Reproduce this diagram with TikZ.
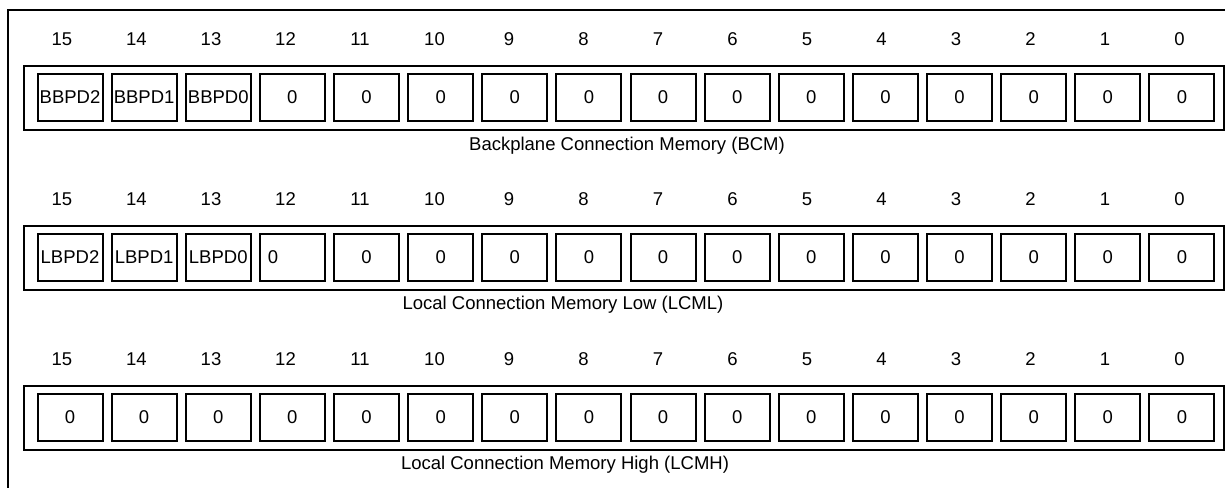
\documentclass[tikz,border=0pt]{standalone}
\usepackage{fontspec}
\setmainfont{Liberation Sans}
\newcommand\figfont{\fontsize{18.5}{22}\selectfont}
\begin{document}
\begin{tikzpicture}[x=1pt,y=-1pt,
  frameline/.style={line width=2pt},
  rowbox/.style={draw,line width=2pt,minimum width=1200pt,minimum height=64pt,inner sep=0pt,anchor=north west},
  cell/.style={draw,line width=2pt,minimum width=65pt,minimum height=47pt,inner sep=0pt,anchor=north west,font=\figfont},
  bitnum/.style={inner sep=0pt,font=\figfont},
  caption/.style={inner sep=0pt,font=\figfont}]
\useasboundingbox (0,0) rectangle (1225,487);
% outer frame
\coordinate (fbl) at (8,490);
\coordinate (ftl) at (8,10);
\coordinate (ftr) at (1230,10);
\draw[frameline] (fbl) -- (ftl) -- (ftr);
% row boxes
\node[rowbox] (bcmbox)  at (23,64.5) {};
\node[rowbox] (lcmlbox) at (23,224.5) {};
\node[rowbox] (lcmhbox) at (23,384.5) {};
% bit numbers
\foreach \r/\nm in {0/bcm,1/lcml,2/lcmh}{
  \foreach \i in {0,...,15}{
    \pgfmathtruncatemacro{\b}{15-\i}
    \node[bitnum] (\nm n\b) at ({62+74.5*\i},{39+160*\r}) {\b};
  }
}
% BCM cells
\foreach \i/\t in {0/BBPD2,1/BBPD1,2/BBPD0,3/0,4/0,5/0,6/0,7/0,8/0,9/0,10/0,11/0,12/0,13/0,14/0,15/0}{
  \pgfmathtruncatemacro{\b}{15-\i}
  \node[cell] (bcm\b) at ({36.5+74.13*\i},73) {\t};
}
% LCML cells
\foreach \i/\t in {0/LBPD2,1/LBPD1,2/LBPD0,4/0,5/0,6/0,7/0,8/0,9/0,10/0,11/0,12/0,13/0,14/0,15/0}{
  \pgfmathtruncatemacro{\b}{15-\i}
  \node[cell] (lcml\b) at ({36.5+74.13*\i},233) {\t};
}
\node[cell,text width=49pt,align=left] (lcml12) at ({36.5+74.13*3},233) {0};
% LCMH cells
\foreach \i in {0,...,15}{
  \pgfmathtruncatemacro{\b}{15-\i}
  \node[cell] (lcmh\b) at ({36.5+74.13*\i},393) {0};
}
% captions
\node[caption] (bcmcap)  at (627,146) {Backplane Connection Memory (BCM)};
\node[caption] (lcmlcap) at (563,305) {Local Connection Memory Low (LCML)};
\node[caption] (lcmhcap) at (565,465) {Local Connection Memory High (LCMH)};
\end{tikzpicture}
\end{document}
